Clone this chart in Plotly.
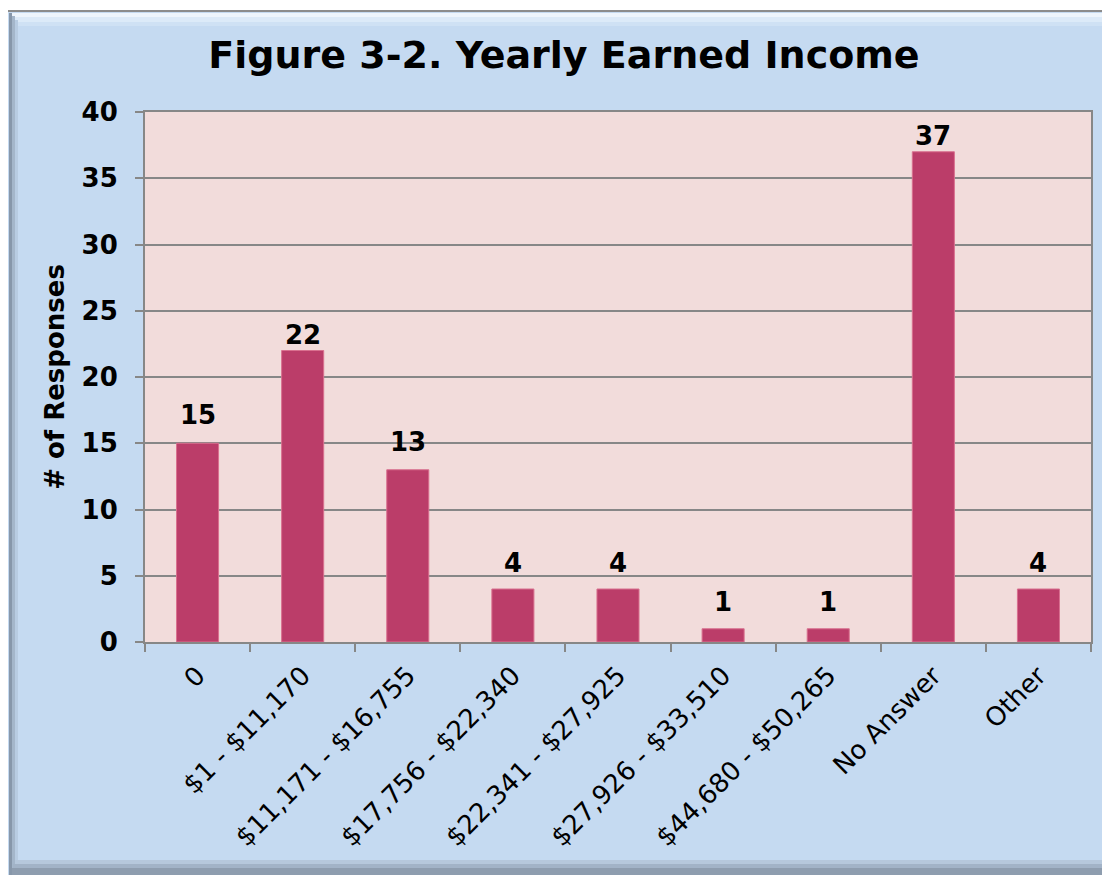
import plotly.graph_objects as go

categories = ["0", "$1 - $11,170", "$11,171 - $16,755", "$17,756 - $22,340",
              "$22,341 - $27,925", "$27,926 - $33,510", "$44,680 - $50,265",
              "No Answer", "Other"]
responses = [15, 22, 13, 4, 4, 1, 1, 37, 4]

# style: pixel gap between each bar top and its value label (as in the original)
label_gap = [18, 6, 18, 16, 16, 17, 17, 6, 16]

# the page body has an 8px margin, so the figure starts at page (8, 8)
OFF = 8
W, H = 1110 - OFF, 875 - OFF
L, R, T, B = 145 - OFF, 19, 112 - OFF, 233
pw, ph = W - L - R, H - T - B


def px_x(p):
    return (p - OFF - L) / pw


def px_y(p):
    return (H - B - (p - OFF)) / ph


FONT = "DejaVu Sans, Verdana, sans-serif"
GRID = "#878787"

fig = go.Figure()
fig.add_trace(go.Bar(
    x=categories, y=responses,
    marker=dict(color="#BB3D69", line=dict(color="#D9708F", width=1)),
))

for cat, val, gap in zip(categories, responses, label_gap):
    fig.add_annotation(x=cat, y=val, text=f"<b>{val}</b>", showarrow=False,
                       yanchor="bottom", yshift=gap - 6, borderpad=0,
                       font=dict(family=FONT, size=26, color="black"))


def rect(x0, y0, x1, y1, fill, line=None):
    fig.add_shape(type="rect", xref="paper", yref="paper",
                  x0=px_x(x0), x1=px_x(x1), y0=px_y(y1), y1=px_y(y0),
                  fillcolor=fill,
                  line=line if line else dict(width=0), layer="below")


# frame with bevel
rect(7, 11, 1115, 880, "#C5DAF1", dict(color="#8C8C8C", width=2))
rect(9, 13, 1112, 17, "#EEF5FC")
rect(9, 17, 1112, 22, "#DCEAF8")
rect(9, 22, 1112, 26, "#CFE1F4")
rect(9, 13, 12, 878, "#8797AA")
rect(12, 16, 15, 878, "#A4B6CA")
rect(15, 20, 18, 878, "#B8CCE2")
rect(15, 860, 1112, 864, "#B6C8DC")
rect(13, 864, 1112, 868, "#A2B3C7")
rect(12, 868, 1112, 878, "#8E9DAF")
# plot area
rect(145, 112, 1091, 642, "#F2DCDB")

fig.update_layout(
    width=W, height=H,
    margin=dict(l=L, r=R, t=T, b=B, autoexpand=False),
    paper_bgcolor="white", plot_bgcolor="#F2DCDB",
    bargap=0.6, showlegend=False,
    font=dict(family=FONT, color="black"),
    title=dict(text="<b>Figure 3-2. Yearly Earned Income</b>",
               x=(564 - OFF) / W, xanchor="center",
               y=1 - (55 - OFF) / H, yanchor="middle", yref="container",
               font=dict(family=FONT, size=38, color="black")),
)
fig.update_xaxes(
    type="category", tickangle=-45, tickson="boundaries",
    ticks="outside", ticklen=8, tickwidth=2, tickcolor=GRID,
    showline=True, linecolor=GRID, linewidth=2, mirror=True,
    showgrid=False, tickfont=dict(family=FONT, size=26, color="black"),
    ticklabelstandoff=6,
)
fig.update_yaxes(
    range=[0, 40], dtick=5, ticks="outside", ticklen=8, tickwidth=2, tickcolor=GRID,
    showline=True, linecolor=GRID, linewidth=2, mirror=True,
    showgrid=True, gridcolor=GRID, gridwidth=2, zeroline=False,
    tickfont=dict(family=FONT, size=26, color="black", weight="bold"),
    ticklabelstandoff=12,
    title=dict(text="<b># of Responses</b>", standoff=10,
               font=dict(family=FONT, size=26, color="black")),
)

fig.write_html("out.html")
